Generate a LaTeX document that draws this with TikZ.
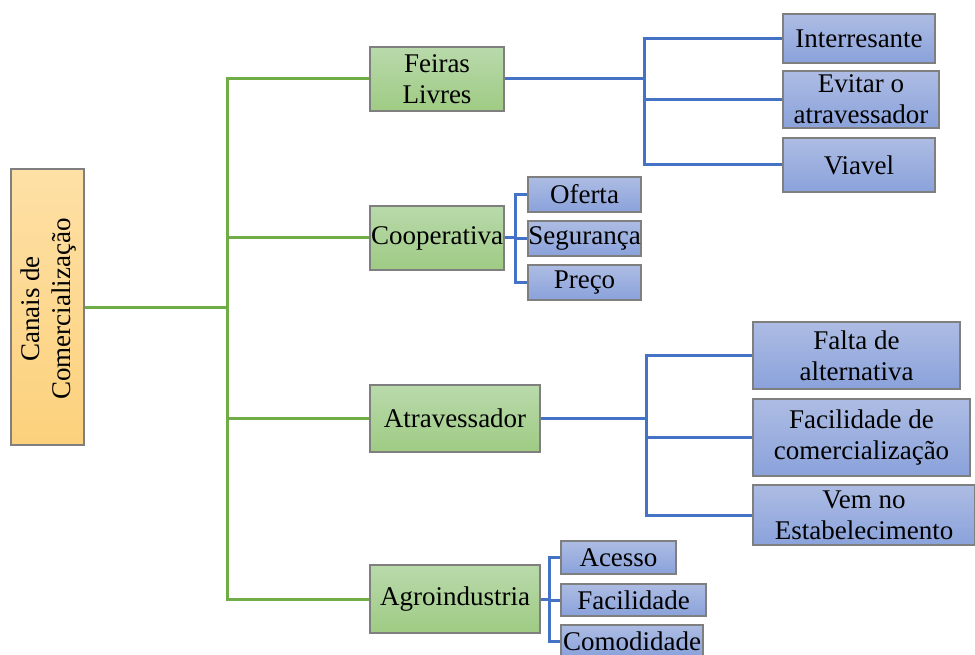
\documentclass[tikz,border=0pt]{standalone}
\usepackage{fontspec}
\setmainfont{Liberation Serif}
\definecolor{gline}{HTML}{70AD47}
\definecolor{bline}{HTML}{4472C4}
\definecolor{gtop}{HTML}{B9D9AB}
\definecolor{gbot}{HTML}{9FCB84}
\definecolor{btop}{HTML}{ADBCE3}
\definecolor{bbot}{HTML}{8AA2DB}
\definecolor{otop}{HTML}{FEE0A6}
\definecolor{obot}{HTML}{FCD17C}
\definecolor{edge}{HTML}{7F7F7F}
\tikzset{
  basebox/.style={draw=edge, line width=1.2pt, inner sep=0pt, align=center,
    font=\fontsize{27}{31}\selectfont},
  gbox/.style={basebox, top color=gtop, bottom color=gbot},
  bbox/.style={basebox, top color=btop, bottom color=bbot},
  obox/.style={basebox, top color=otop, bottom color=obot},
  gconn/.style={draw=gline, line width=3pt},
  bconn/.style={draw=bline, line width=3pt},
}
\begin{document}
\begin{tikzpicture}[x=1pt,y=-1pt]
\useasboundingbox (0,0) rectangle (975,655);
% junction x coordinates
\coordinate (gx) at (227.5,0);
\coordinate (bx1) at (644.5,0);
\coordinate (bx2) at (515.5,0);
\coordinate (bx3) at (646.5,0);
\coordinate (bx4) at (549,0);
% root
\node[obox, minimum width=73pt, minimum height=276pt] (root) at (47.5,307) {};
\node[rotate=90, align=center, inner sep=0pt, font=\fontsize{27}{31}\selectfont] (roottext) at (48.5,309) {Canais de\\Comercialização};
% level 1
\node[gbox, minimum width=134pt, minimum height=64pt] (feiras) at (437,79) {Feiras\\Livres};
\node[gbox, minimum width=134pt, minimum height=64pt] (coop) at (437,238) {Cooperativa};
\node[gbox, minimum width=170pt, minimum height=67pt] (atrav) at (455,418.5) {Atravessador};
\node[gbox, minimum width=170pt, minimum height=68pt] (agro) at (455,599) {Agroindustria};
% level 2 - feiras
\node[bbox, minimum width=152pt, minimum height=49pt] (inter) at (859,38.5) {Interresante};
\node[bbox, minimum width=156pt, minimum height=57pt] (evitar) at (861,99.5) {Evitar o\\atravessador};
\node[bbox, minimum width=152pt, minimum height=54pt] (viavel) at (859,165) {Viavel};
% coop
\node[bbox, minimum width=113pt, minimum height=35pt] (oferta) at (584.5,194.5) {Oferta};
\node[bbox, minimum width=113pt, minimum height=35pt] (seg) at (584.5,238.5) {Segurança};
\node[bbox, minimum width=113pt, minimum height=35pt] (preco) at (584.5,282.5) {Preço};
% atrav
\node[bbox, minimum width=207pt, minimum height=67pt] (falta) at (856.5,355.5) {Falta de\\alternativa};
\node[bbox, minimum width=217pt, minimum height=77pt] (facom) at (861.5,437.5) {Facilidade de\\comercialização};
\node[bbox, minimum width=222pt, minimum height=60pt] (vem) at (864,515) {Vem no\\Estabelecimento};
% agro
\node[bbox, minimum width=115pt, minimum height=33pt] (acesso) at (618.5,557.5) {Acesso};
\node[bbox, minimum width=145pt, minimum height=32pt] (facil) at (633.5,600) {Facilidade};
\node[bbox, minimum width=142pt, minimum height=32pt] (comod) at (632,641) {Comodidade};
% green connectors
\draw[gconn] (root.east) -- (root.east -| gx);
\draw[gconn] (feiras.west) -- (feiras.west -| gx) -- (agro.west -| gx) -- (agro.west);
\draw[gconn] (coop.west -| gx) -- (coop.west);
\draw[gconn] (atrav.west -| gx) -- (atrav.west);
% blue connectors feiras
\draw[bconn] (feiras.east) -- (feiras.east -| bx1);
\draw[bconn] (inter.west) -- (inter.west -| bx1) -- (viavel.west -| bx1) -- (viavel.west);
\draw[bconn] (evitar.west -| bx1) -- (evitar.west);
% coop
\draw[bconn] (coop.east) -- (coop.east -| bx2);
\draw[bconn] (oferta.west) -- (oferta.west -| bx2) -- (preco.west -| bx2) -- (preco.west);
\draw[bconn] (seg.west -| bx2) -- (seg.west);
% atrav
\draw[bconn] (atrav.east) -- (atrav.east -| bx3);
\draw[bconn] (falta.west) -- (falta.west -| bx3) -- (vem.west -| bx3) -- (vem.west);
\draw[bconn] (facom.west -| bx3) -- (facom.west);
% agro
\draw[bconn] (agro.east) -- (agro.east -| bx4);
\draw[bconn] (acesso.west) -- (acesso.west -| bx4) -- (comod.west -| bx4) -- (comod.west);
\draw[bconn] (facil.west -| bx4) -- (facil.west);
\end{tikzpicture}
\end{document}
